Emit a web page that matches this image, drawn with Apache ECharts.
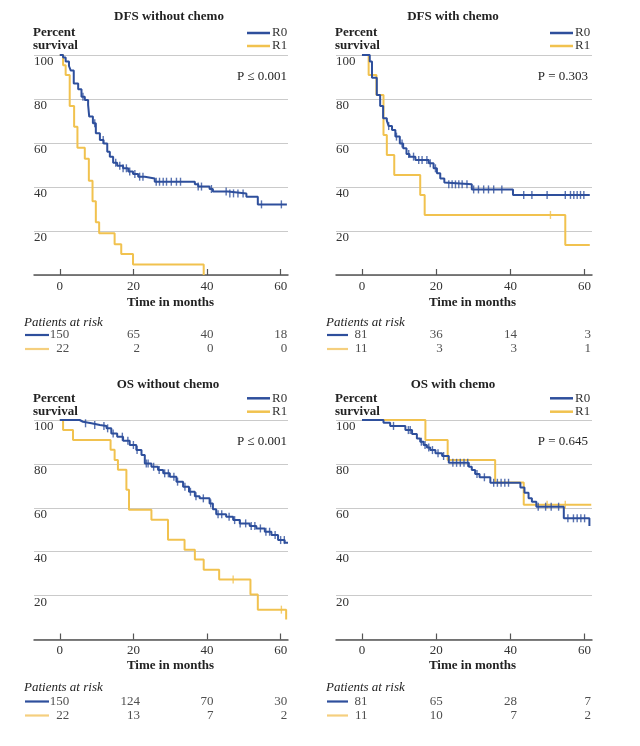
<!DOCTYPE html>
<html>
<head>
<meta charset="utf-8">
<script src="https://cdn.jsdelivr.net/npm/echarts@6/dist/echarts.min.js"></script>
<style>
html,body{margin:0;padding:0;background:#fff;}
#chart{width:640px;height:746px;}
</style>
</head>
<body>
<div id="chart"></div>
<script>
// ---------------- DATA ----------------
const panelTitles = ['DFS without chemo', 'DFS with chemo', 'OS without chemo', 'OS with chemo'];
const pValues = ['P \u2264 0.001', 'P = 0.303', 'P \u2264 0.001', 'P = 0.645'];
const xTicks = [0, 20, 40, 60];
const yTicks = [20, 40, 60, 80, 100];
const groupNames = ['R0', 'R1'];

// DFS without chemo
const dfsNoR0Time = [0, 0.9, 1.6, 2.5, 3.0, 3.8, 5.0, 5.9, 6.8, 7.7, 8.0, 9.0, 9.8, 10.9, 11.9, 12.9, 13.6, 14.5, 15.6, 17.2, 18.6, 19.9, 21.3, 23.1, 25.8, 36.7, 37.6, 40.7, 41.6, 45.7, 50.7, 53.8, 61.7];
const dfsNoR0Surv = [100, 98.9, 97, 95, 92.9, 87.1, 84.4, 81, 79.5, 77.3, 72, 69, 64.4, 61.4, 59.8, 56, 53.8, 51, 49.7, 48.5, 47, 45.9, 44.7, 43.9, 42.4, 41.2, 40.2, 39.1, 37.9, 37.1, 35.6, 32.1, 32.1];
const dfsNoR0Cens = [6.3, 9.5, 11.8, 15.2, 16.3, 17.2, 18.1, 19.0, 20.4, 21.7, 22.6, 26.2, 27.1, 28.1, 29.0, 30.3, 31.7, 32.8, 37.6, 38.5, 41.2, 45.2, 46.2, 47.2, 48.4, 49.8, 54.8, 60.2];
const dfsNoR1Time = [0, 0.9, 1.6, 2.7, 3.9, 4.8, 6.8, 7.9, 8.9, 9.8, 10.7, 14.9, 16.7, 19.9, 39.1];
const dfsNoR1Surv = [100, 95.3, 90.9, 76.8, 67.4, 57.8, 52.8, 42.8, 33.5, 24, 19, 14, 9.5, 4.8, 0];
const dfsNoR1Cens = [];

// DFS with chemo
const dfsChR0Time = [0, 2.1, 2.7, 4.0, 4.9, 5.7, 6.7, 7.2, 8.1, 9.0, 10.2, 11.1, 12.0, 12.8, 14.4, 18.0, 19.3, 20.2, 21.1, 22.2, 22.7, 29.6, 40.7, 61.4];
const dfsChR0Surv = [100, 97, 89.7, 81.8, 76.8, 71.2, 70.2, 67.7, 65.9, 62.9, 59.8, 57.6, 55, 53.8, 52.3, 50.8, 48.5, 46.2, 43.9, 42, 41.2, 38.9, 36.4, 36.4];
const dfsChR0Cens = [7.2, 9.3, 10.8, 12.6, 13.9, 15.3, 16.2, 17.5, 18.4, 19.8, 23.4, 24.3, 25.2, 26.1, 27.0, 28.3, 30.1, 31.4, 32.8, 34.1, 35.5, 37.7, 43.6, 45.8, 49.9, 54.8, 56.2, 57.1, 58.0, 58.9, 59.8];
const dfsChR1Time = [0, 1.8, 3.9, 5.8, 6.7, 8.7, 15.7, 16.9, 54.8, 61.4];
const dfsChR1Surv = [100, 90.9, 81.8, 63.6, 54.5, 45.5, 36.4, 27.3, 13.6, 13.6];
const dfsChR1Cens = [50.8];

// OS without chemo
const osNoR0Time = [0, 5.4, 6.3, 8.6, 10.9, 12.7, 14.0, 15.6, 17.2, 19.0, 20.8, 22.2, 23.1, 24.9, 26.7, 28.1, 29.9, 31.7, 33.5, 35.1, 36.7, 38.0, 40.7, 41.6, 42.5, 45.2, 47.1, 48.9, 51.6, 53.4, 55.7, 57.5, 59.3, 61.1, 62];
const osNoR0Surv = [100, 99.2, 98.5, 97.7, 97.3, 96.2, 93.9, 92.4, 90.6, 88.6, 86.3, 84, 80.2, 78.7, 77.2, 75.7, 74.2, 71.9, 69.6, 67.3, 65.3, 64.3, 62, 59.3, 57.1, 55.9, 54.4, 52.9, 51.7, 50.6, 49.1, 47.6, 45.3, 44.1, 44.1];
const osNoR0Cens = [7, 9.5, 12, 13, 14.5, 17, 18.5, 20, 21, 23.5, 24, 25.5, 27, 28.5, 29.5, 31, 32, 34, 35.5, 37, 39, 41, 43, 44, 46, 47.5, 49, 50.5, 52, 53, 54.5, 56, 57, 58.5, 60, 61];
const osNoR1Time = [0, 0.9, 3.6, 13.8, 14.9, 15.8, 18.1, 18.8, 24.9, 29.4, 33.9, 36.7, 39.1, 43.3, 51.8, 53.8, 61.5];
const osNoR1Surv = [100, 95.5, 90.9, 86.4, 81.8, 77.3, 68.2, 59.1, 54.5, 45.5, 40.9, 36.4, 31.8, 27.3, 20.5, 13.6, 9.1];
const osNoR1Cens = [47.1, 60.2];

// OS with chemo
const osChR0Time = [0, 5.8, 7.6, 11.7, 13.5, 14.8, 15.7, 16.6, 17.5, 18.4, 19.8, 21.6, 23.4, 28.8, 29.6, 30.5, 31.7, 34.6, 42.7, 43.8, 44.9, 45.8, 47.0, 54.4, 61.3];
const osChR0Surv = [100, 98.8, 97.3, 95.4, 93.6, 91.6, 90.1, 88.6, 87.5, 86.3, 84.8, 83.6, 80.5, 78.7, 77.2, 75.4, 73.9, 71.4, 69.3, 66.9, 64.3, 62.8, 60.5, 55.2, 51.7];
const osChR0Cens = [8.5, 12.5, 13, 16, 17, 18, 19, 20.5, 22, 24.5, 25.5, 26.5, 27.5, 28.5, 31, 33, 35.5, 36.5, 37.5, 38.5, 39.5, 47.5, 49.5, 51, 53, 55.5, 57, 58, 59, 60];
const osChR1Time = [0, 17.1, 23.1, 35.9, 43.6, 61.8];
const osChR1Surv = [100, 90.9, 81.8, 71.5, 61.4, 61.4];
const osChR1Cens = [49.9, 54.8];

// Patients at risk (at 0, 20, 40, 60 months)
const riskTimes = [0, 20, 40, 60];
const riskDfsNoR0 = [150, 65, 40, 18];
const riskDfsNoR1 = [22, 2, 0, 0];
const riskDfsChR0 = [81, 36, 14, 3];
const riskDfsChR1 = [11, 3, 3, 1];
const riskOsNoR0 = [150, 124, 70, 30];
const riskOsNoR1 = [22, 13, 7, 2];
const riskOsChR0 = [81, 65, 28, 7];
const riskOsChR1 = [11, 10, 7, 2];

// ---------------- STYLE / LAYOUT ----------------
const FONT = '"Liberation Serif", "Times New Roman", serif';
const BLUE = '#2E4F9C';
const GOLD = '#F1C24F';
const GOLD_LIGHT = '#F5CF7E';
const TXT = '#222';

const panels = [
  { r0: [dfsNoR0Time, dfsNoR0Surv, dfsNoR0Cens], r1: [dfsNoR1Time, dfsNoR1Surv, dfsNoR1Cens], risk: [riskDfsNoR0, riskDfsNoR1],
    grid: { left: 34, top: 55, width: 254, height: 220 }, riskTop: 328, firstColOffset: 9.5,
    titleX: 169, titleY: 17, axisTitleX: 170.5, axisTitleY: 303, patY: 322.5, leftX: 33, legLine: [247, 270], legY: [33, 46], pRight: 287, pY: 77, riskLine: [25, 49] },
  { r0: [dfsChR0Time, dfsChR0Surv, dfsChR0Cens], r1: [dfsChR1Time, dfsChR1Surv, dfsChR1Cens], risk: [riskDfsChR0, riskDfsChR1],
    grid: { left: 336, top: 55, width: 256, height: 220 }, riskTop: 328, firstColOffset: 5.5,
    titleX: 453, titleY: 17, axisTitleX: 472.5, axisTitleY: 303, patY: 322.5, leftX: 335, legLine: [550, 573], legY: [33, 46], pRight: 588, pY: 77, riskLine: [327, 348] },
  { r0: [osNoR0Time, osNoR0Surv, osNoR0Cens], r1: [osNoR1Time, osNoR1Surv, osNoR1Cens], risk: [riskOsNoR0, riskOsNoR1],
    grid: { left: 34, top: 420, width: 254, height: 219.5 }, riskTop: 694.5, firstColOffset: 9.5,
    titleX: 168, titleY: 385, axisTitleX: 170.5, axisTitleY: 666, patY: 688, leftX: 33, legLine: [247, 270], legY: [398.3, 411.7], pRight: 287, pY: 442, riskLine: [25, 49] },
  { r0: [osChR0Time, osChR0Surv, osChR0Cens], r1: [osChR1Time, osChR1Surv, osChR1Cens], risk: [riskOsChR0, riskOsChR1],
    grid: { left: 336, top: 420, width: 256, height: 219.5 }, riskTop: 694.5, firstColOffset: 5.5,
    titleX: 453, titleY: 385, axisTitleX: 472.5, axisTitleY: 666, patY: 688, leftX: 335, legLine: [550, 573], legY: [398.3, 411.7], pRight: 588, pY: 442, riskLine: [327, 348] }
];

function survAt(times, vals, t) {
  let v = vals[0];
  for (let i = 0; i < times.length; i++) { if (times[i] <= t) v = vals[i]; }
  return v;
}

const grids = [], xAxes = [], yAxes = [], series = [], graphics = [];

panels.forEach((p, i) => {
  grids.push(Object.assign({}, p.grid));
  const gi = grids.length - 1;
  xAxes.push({
    gridIndex: gi, type: 'value', min: -7, max: 62,
    axisLine: { show: true, onZero: false, lineStyle: { color: '#555', width: 1.5 } },
    axisTick: { show: true, inside: true, length: 6, customValues: xTicks, lineStyle: { color: '#555', width: 1.2 } },
    axisLabel: { show: true, customValues: xTicks, margin: 5, color: '#333', fontSize: 13, fontFamily: FONT },
    splitLine: { show: false }
  });
  yAxes.push({
    gridIndex: gi, type: 'value', min: 0, max: 100, interval: 20,
    axisLine: { show: false }, axisTick: { show: false },
    axisLabel: { show: true, inside: true, margin: 0, verticalAlign: 'top', color: '#333', fontSize: 13, fontFamily: FONT,
      formatter: v => (yTicks.indexOf(v) >= 0 ? String(v) : '') },
    splitLine: { show: true, lineStyle: { color: '#cacaca', width: 1 } }
  });

  grids.push({ left: p.grid.left, width: p.grid.width, top: p.riskTop, height: 28 });
  const ri = grids.length - 1;
  xAxes.push({ gridIndex: ri, type: 'value', min: -7, max: 62, show: false });
  yAxes.push({ gridIndex: ri, type: 'category', data: groupNames, inverse: true, show: false });

  const curves = [[p.r1, GOLD, 'R1'], [p.r0, BLUE, 'R0']];
  curves.forEach(([c, color, name]) => {
    const [times, vals, cens] = c;
    series.push({
      type: 'line', name: name, xAxisIndex: gi, yAxisIndex: gi, step: 'end',
      data: times.map((t, k) => [t, vals[k]]),
      showSymbol: false, symbol: 'none', silent: true,
      lineStyle: { color: color, width: 2 }, z: name === 'R0' ? 4 : 3
    });
    if (cens.length) {
      series.push({
        type: 'scatter', name: name, xAxisIndex: gi, yAxisIndex: gi, silent: true,
        data: cens.map(t => [t, survAt(times, vals, t)]),
        symbol: 'rect', symbolSize: [1.4, 8],
        itemStyle: { color: color }, z: name === 'R0' ? 4 : 3
      });
    }
  });

  p.risk.forEach((arr, row) => {
    series.push({
      type: 'scatter', xAxisIndex: ri, yAxisIndex: ri, silent: true,
      symbol: 'circle', symbolSize: 1, itemStyle: { color: 'rgba(0,0,0,0)' },
      data: riskTimes.map((t, k) => ({
        value: [t, groupNames[row], arr[k]],
        label: { offset: [k === 0 ? p.firstColOffset : 6.5, 0] }
      })),
      label: { show: true, position: 'inside', align: 'right', verticalAlign: 'middle', offset: [6.5, 0],
        formatter: q => String(q.value[2]), color: TXT, fontSize: 13, fontFamily: FONT }
    });
  });

  const bold = 'bold 13px ' + FONT;
  const reg = '13px ' + FONT;
  graphics.push({ type: 'text', x: p.titleX, y: p.titleY, style: { text: panelTitles[i], font: bold, fill: TXT, textAlign: 'center', textVerticalAlign: 'middle' } });
  graphics.push({ type: 'text', x: p.leftX, y: p.legY[0], style: { text: 'Percent', font: bold, fill: TXT, textAlign: 'left', textVerticalAlign: 'middle' } });
  graphics.push({ type: 'text', x: p.leftX, y: p.legY[1], style: { text: 'survival', font: bold, fill: TXT, textAlign: 'left', textVerticalAlign: 'middle' } });
  [[BLUE, 'R0'], [GOLD, 'R1']].forEach(([col, nm], k) => {
    graphics.push({ type: 'line', shape: { x1: p.legLine[0], y1: p.legY[k], x2: p.legLine[1], y2: p.legY[k] }, style: { stroke: col, lineWidth: 2.5 } });
    graphics.push({ type: 'text', x: p.legLine[1] + 2, y: p.legY[k], style: { text: nm, font: reg, fill: '#333', textAlign: 'left', textVerticalAlign: 'middle' } });
  });
  graphics.push({ type: 'text', x: p.pRight, y: p.pY, style: { text: pValues[i], font: reg, fill: TXT, textAlign: 'right', textVerticalAlign: 'middle' } });
  graphics.push({ type: 'text', x: p.axisTitleX, y: p.axisTitleY, style: { text: 'Time in months', font: bold, fill: TXT, textAlign: 'center', textVerticalAlign: 'middle' } });
  graphics.push({ type: 'text', x: p.riskLine[0] - 1, y: p.patY, style: { text: 'Patients at risk', font: 'italic 13px ' + FONT, fill: TXT, textAlign: 'left', textVerticalAlign: 'middle' } });
  [[BLUE, 0], [GOLD_LIGHT, 1]].forEach(([col, row]) => {
    const yy = p.riskTop + 7 + row * 14;
    graphics.push({ type: 'line', shape: { x1: p.riskLine[0], y1: yy, x2: p.riskLine[1], y2: yy }, style: { stroke: col, lineWidth: 2.2 } });
  });
});

const chart = echarts.init(document.getElementById('chart'), null, { renderer: 'canvas' });
chart.setOption({
  animation: false,
  backgroundColor: '#fff',
  textStyle: { fontFamily: FONT },
  grid: grids, xAxis: xAxes, yAxis: yAxes, series: series, graphic: graphics
});
</script>
</body>
</html>
